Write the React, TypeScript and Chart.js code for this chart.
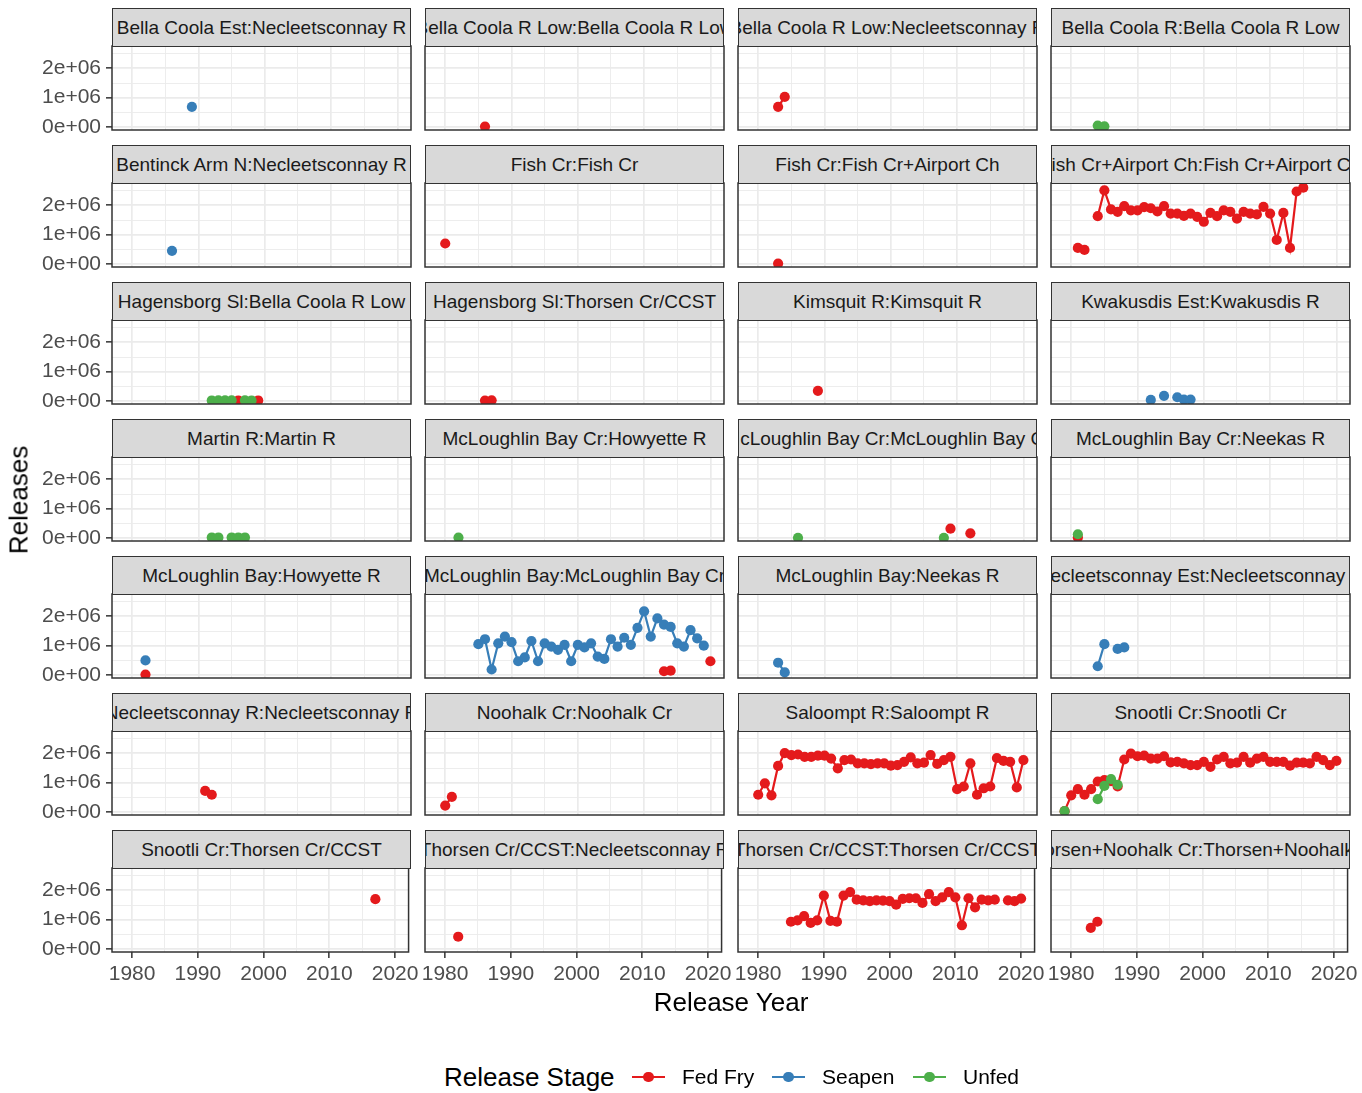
import React, { useEffect, useRef } from "react";
import { Chart, registerables } from "chart.js";

Chart.register(...registerables);

type Pt = [number, number];

// ---------- categories ----------
const STAGES = ["Fed Fry", "Seapen", "Unfed"];
const STAGE_COLORS = ["#E41A1C", "#377EB8", "#4DAF4A"];

const PANEL_TITLES = [
  "Bella Coola Est:Necleetsconnay R",
  "Bella Coola R Low:Bella Coola R Low",
  "Bella Coola R Low:Necleetsconnay R",
  "Bella Coola R:Bella Coola R Low",
  "Bentinck Arm N:Necleetsconnay R",
  "Fish Cr:Fish Cr",
  "Fish Cr:Fish Cr+Airport Ch",
  "Fish Cr+Airport Ch:Fish Cr+Airport Ch",
  "Hagensborg Sl:Bella Coola R Low",
  "Hagensborg Sl:Thorsen Cr/CCST",
  "Kimsquit R:Kimsquit R",
  "Kwakusdis Est:Kwakusdis R",
  "Martin R:Martin R",
  "McLoughlin Bay Cr:Howyette R",
  "McLoughlin Bay Cr:McLoughlin Bay Cr",
  "McLoughlin Bay Cr:Neekas R",
  "McLoughlin Bay:Howyette R",
  "McLoughlin Bay:McLoughlin Bay Cr",
  "McLoughlin Bay:Neekas R",
  "Necleetsconnay Est:Necleetsconnay R",
  "Necleetsconnay R:Necleetsconnay R",
  "Noohalk Cr:Noohalk Cr",
  "Saloompt R:Saloompt R",
  "Snootli Cr:Snootli Cr",
  "Snootli Cr:Thorsen Cr/CCST",
  "Thorsen Cr/CCST:Necleetsconnay R",
  "Thorsen Cr/CCST:Thorsen Cr/CCST",
  "Thorsen+Noohalk Cr:Thorsen+Noohalk Cr",
];

// ---------- tick labels ----------
const X_TICKS = [1980, 1985, 1990, 1995, 2000, 2005, 2010, 2015, 2020];
const Y_TICKS = [0, 500000, 1000000, 1500000, 2000000, 2500000];
const Y_TICK_LABELS: Record<number, string> = { 0: "0e+00", 1000000: "1e+06", 2000000: "2e+06" };

// ---------- series values: [release year, releases] ----------
const bcEstNecSeapen: Pt[] = [[1989, 690000]];
const bcLowBcLowFed: Pt[] = [[1986, 15000]];
const bcLowNecFed: Pt[] = [[1983, 690000], [1984, 1030000]];
const bcRBcLowUnfed: Pt[] = [[1984, 50000], [1985, 25000]];
const bentinckNecSeapen: Pt[] = [[1986, 450000]];
const fishFishFed: Pt[] = [[1980, 700000]];
const fishFishAirportFed: Pt[] = [[1983, 15000]];
const fishAirportFed: Pt[] = [
  [1981, 550000], [1982, 480000], [1984, 1630000], [1985, 2510000], [1986, 1860000],
  [1987, 1780000], [1988, 1970000], [1989, 1830000], [1990, 1830000], [1991, 1940000],
  [1992, 1900000], [1993, 1790000], [1994, 1970000], [1995, 1720000], [1996, 1720000],
  [1997, 1640000], [1998, 1720000], [1999, 1610000], [2000, 1440000], [2001, 1740000],
  [2002, 1630000], [2003, 1830000], [2004, 1780000], [2005, 1550000], [2006, 1780000],
  [2007, 1720000], [2008, 1690000], [2009, 1950000], [2010, 1720000], [2011, 820000],
  [2012, 1740000], [2013, 550000], [2014, 2470000], [2015, 2600000],
];
const hagBcLowFed: Pt[] = [[1996, 20000], [1999, 20000]];
const hagBcLowUnfed: Pt[] = [[1992, 20000], [1993, 25000], [1994, 25000], [1995, 25000], [1997, 25000], [1998, 20000]];
const hagThorsenFed: Pt[] = [[1986, 15000], [1987, 25000]];
const kimsquitFed: Pt[] = [[1989, 350000]];
const kwakusdisSeapen: Pt[] = [[1992, 40000], [1994, 180000], [1996, 130000], [1997, 50000], [1998, 50000]];
const martinUnfed: Pt[] = [[1992, 20000], [1993, 20000], [1995, 20000], [1996, 20000], [1997, 20000]];
const mcbCrHowyetteUnfed: Pt[] = [[1982, 15000]];
const mcbCrMcbCrFed: Pt[] = [[2009, 320000], [2012, 160000]];
const mcbCrMcbCrUnfed: Pt[] = [[1986, 10000], [2008, 10000]];
const mcbCrNeekasFed: Pt[] = [[1981, 20000]];
const mcbCrNeekasUnfed: Pt[] = [[1981, 130000]];
const mcbHowyetteFed: Pt[] = [[1982, 15000]];
const mcbHowyetteSeapen: Pt[] = [[1982, 500000]];
const mcbMcbCrFed: Pt[] = [[2013, 130000], [2014, 150000], [2020, 470000]];
const mcbMcbCrSeapen: Pt[] = [
  [1985, 1050000], [1986, 1220000], [1987, 190000], [1988, 1080000], [1989, 1310000],
  [1990, 1120000], [1991, 470000], [1992, 600000], [1993, 1160000], [1994, 470000],
  [1995, 1080000], [1996, 970000], [1997, 860000], [1998, 1030000], [1999, 470000],
  [2000, 1030000], [2001, 940000], [2002, 1080000], [2003, 630000], [2004, 550000],
  [2005, 1220000], [2006, 970000], [2007, 1270000], [2008, 1030000], [2009, 1610000],
  [2010, 2170000], [2011, 1310000], [2012, 1930000], [2013, 1720000], [2014, 1640000],
  [2015, 1080000], [2016, 970000], [2017, 1530000], [2018, 1250000], [2019, 1000000],
];
const mcbNeekasSeapen: Pt[] = [[1983, 420000], [1984, 90000]];
const necEstNecSeapen: Pt[] = [[1984, 300000], [1985, 1050000], [1987, 890000], [1988, 940000]];
const necRNecRFed: Pt[] = [[1991, 720000], [1992, 590000]];
const noohalkFed: Pt[] = [[1980, 220000], [1981, 520000]];
const saloomptFed: Pt[] = [
  [1980, 590000], [1981, 980000], [1982, 570000], [1983, 1570000], [1984, 2010000],
  [1985, 1940000], [1986, 1960000], [1987, 1880000], [1988, 1880000], [1989, 1920000],
  [1990, 1920000], [1991, 1820000], [1992, 1490000], [1993, 1770000], [1994, 1790000],
  [1995, 1660000], [1996, 1660000], [1997, 1630000], [1998, 1660000], [1999, 1660000],
  [2000, 1580000], [2001, 1600000], [2002, 1710000], [2003, 1860000], [2004, 1660000],
  [2005, 1680000], [2006, 1940000], [2007, 1640000], [2008, 1770000], [2009, 1880000],
  [2010, 780000], [2011, 870000], [2012, 1660000], [2013, 590000], [2014, 810000],
  [2015, 870000], [2016, 1840000], [2017, 1740000], [2018, 1710000], [2019, 840000],
  [2020, 1770000],
];
const snootliFed: Pt[] = [
  [1979, 30000], [1980, 570000], [1981, 780000], [1982, 590000], [1983, 780000],
  [1984, 1040000], [1985, 1090000], [1986, 1050000], [1987, 870000], [1988, 1790000],
  [1989, 1990000], [1990, 1900000], [1991, 1920000], [1992, 1820000], [1993, 1820000],
  [1994, 1900000], [1995, 1690000], [1996, 1710000], [1997, 1660000], [1998, 1600000],
  [1999, 1600000], [2000, 1710000], [2001, 1540000], [2002, 1790000], [2003, 1880000],
  [2004, 1660000], [2005, 1680000], [2006, 1880000], [2007, 1680000], [2008, 1820000],
  [2009, 1880000], [2010, 1710000], [2011, 1710000], [2012, 1710000], [2013, 1580000],
  [2014, 1680000], [2015, 1680000], [2016, 1660000], [2017, 1880000], [2018, 1770000],
  [2019, 1600000], [2020, 1740000],
];
const snootliUnfed: Pt[] = [[1979, 30000], [1984, 440000], [1985, 890000], [1986, 1120000], [1987, 930000]];
const snootliThorsenFed: Pt[] = [[2017, 1700000]];
const thorsenNecFed: Pt[] = [[1982, 420000]];
const thorsenThorsenFed: Pt[] = [
  [1985, 930000], [1986, 980000], [1987, 1120000], [1988, 890000], [1989, 980000],
  [1990, 1820000], [1991, 960000], [1992, 930000], [1993, 1820000], [1994, 1940000],
  [1995, 1680000], [1996, 1660000], [1997, 1630000], [1998, 1660000], [1999, 1650000],
  [2000, 1630000], [2001, 1510000], [2002, 1710000], [2003, 1730000], [2004, 1730000],
  [2005, 1570000], [2006, 1870000], [2007, 1630000], [2008, 1760000], [2009, 1940000],
  [2010, 1760000], [2011, 810000], [2012, 1730000], [2013, 1420000], [2014, 1680000],
  [2015, 1660000], [2016, 1680000], [2018, 1660000], [2019, 1630000], [2020, 1720000],
];
const thorsenNoohalkFed: Pt[] = [[1983, 720000], [1984, 930000]];

// per panel: [Fed Fry, Seapen, Unfed]
const PANEL_SERIES: (Pt[] | null)[][] = [
  [null, bcEstNecSeapen, null],
  [bcLowBcLowFed, null, null],
  [bcLowNecFed, null, null],
  [null, null, bcRBcLowUnfed],
  [null, bentinckNecSeapen, null],
  [fishFishFed, null, null],
  [fishFishAirportFed, null, null],
  [fishAirportFed, null, null],
  [hagBcLowFed, null, hagBcLowUnfed],
  [hagThorsenFed, null, null],
  [kimsquitFed, null, null],
  [null, kwakusdisSeapen, null],
  [null, null, martinUnfed],
  [null, null, mcbCrHowyetteUnfed],
  [mcbCrMcbCrFed, null, mcbCrMcbCrUnfed],
  [mcbCrNeekasFed, null, mcbCrNeekasUnfed],
  [mcbHowyetteFed, mcbHowyetteSeapen, null],
  [mcbMcbCrFed, mcbMcbCrSeapen, null],
  [null, mcbNeekasSeapen, null],
  [null, necEstNecSeapen, null],
  [necRNecRFed, null, null],
  [noohalkFed, null, null],
  [saloomptFed, null, null],
  [snootliFed, null, snootliUnfed],
  [snootliThorsenFed, null, null],
  [thorsenNecFed, null, null],
  [thorsenThorsenFed, null, null],
  [thorsenNoohalkFed, null, null],
];

// ---------- layout / style ----------
const FONT = '"Liberation Sans", Arial, Helvetica, sans-serif';
const YEAR_MIN = 1976.95;
const YEAR_MAX = 2022.05;
const Y_MIN = -100000;
const Y_MAX = 2760000;
const COL_LEFT = [112, 425, 738, 1051];
const PANEL_W = 299;
const PANEL_H = 84;
const ROW_STEP = 137;
const FIRST_PLOT_TOP = 46;
const STRIP_H = 38;
const GRID = "#EBEBEB";
const DARK = "#333333";
const TICK_FONT = 21;
const TITLE_FONT = 26;
const POINT_R = 5.1;

Chart.defaults.font.family = FONT;

const panelBorder = {
  id: "panelBorder",
  afterDraw(chart: any) {
    const { ctx, chartArea: a } = chart;
    ctx.save();
    ctx.strokeStyle = DARK;
    ctx.lineWidth = 1.5;
    ctx.strokeRect(a.left, a.top, a.right - a.left, a.bottom - a.top);
    ctx.restore();
  },
};

function withGaps(pts: Pt[]) {
  const out: { x: number; y: number | null }[] = [];
  pts.forEach((p, i) => {
    if (i > 0 && p[0] - pts[i - 1][0] > 1) out.push({ x: (p[0] + pts[i - 1][0]) / 2, y: null });
    out.push({ x: p[0], y: p[1] });
  });
  return out;
}

function Panel({ idx }: { idx: number }) {
  const ref = useRef<HTMLCanvasElement>(null);
  const r = Math.floor(idx / 4);
  const c = idx % 4;
  const isLeft = c === 0;
  const isBottom = r === 6;
  const plotLeft = COL_LEFT[c];
  const plotTop = FIRST_PLOT_TOP + r * ROW_STEP;
  const padL = isLeft ? 0 : 14;
  const canvasLeft = isLeft ? 0 : plotLeft - padL;
  const yAxisW = isLeft ? plotLeft : 0;
  const padR = 12;
  const padT = 18;
  const padB = isBottom ? 0 : 18;
  const xAxisH = isBottom ? 42 : 0;
  const width = plotLeft + PANEL_W + padR - canvasLeft;
  const height = padT + PANEL_H + xAxisH + padB;

  useEffect(() => {
    const datasets: any[] = [];
    PANEL_SERIES[idx].forEach((pts, s) => {
      if (!pts) return;
      datasets.push({
        label: STAGES[s] + " line",
        data: withGaps(pts),
        borderColor: STAGE_COLORS[s],
        borderWidth: 2.2,
        pointRadius: 0,
        showLine: true,
        spanGaps: false,
        fill: false,
        clip: 0,
        order: 6 - s,
      });
      datasets.push({
        label: STAGES[s],
        data: pts.map((p) => ({ x: p[0], y: p[1] })),
        showLine: false,
        borderColor: STAGE_COLORS[s],
        pointBackgroundColor: STAGE_COLORS[s],
        pointBorderWidth: 0,
        pointRadius: POINT_R,
        clip: 0,
        order: 3 - s,
      });
    });
    const chart = new Chart(ref.current as HTMLCanvasElement, {
      type: "line",
      data: { datasets },
      options: {
        animation: false,
        responsive: false,
        maintainAspectRatio: false,
        events: [],
        layout: { padding: { left: padL, right: padR, top: padT, bottom: padB } },
        plugins: { legend: { display: false }, tooltip: { enabled: false }, title: { display: false } },
        scales: {
          x: {
            type: "linear",
            min: YEAR_MIN,
            max: YEAR_MAX,
            afterBuildTicks: (s: any) => {
              s.ticks = X_TICKS.map((v) => ({ value: v }));
            },
            afterFit: (s: any) => {
              s.height = xAxisH;
            },
            border: { display: false },
            grid: {
              color: GRID,
              lineWidth: (ctx: any) => (ctx.tick && ctx.tick.value % 10 === 0 ? 1.7 : 0.9),
              drawTicks: isBottom,
              tickLength: 6,
              tickWidth: 1.5,
              tickColor: (ctx: any) => (ctx.tick && ctx.tick.value % 10 === 0 ? DARK : "rgba(0,0,0,0)"),
            },
            ticks: {
              display: isBottom,
              autoSkip: false,
              maxRotation: 0,
              padding: 4,
              color: "#4D4D4D",
              font: { size: TICK_FONT, family: FONT },
              callback: (v: any) => (Number(v) % 10 === 0 ? String(v) : ""),
            },
          },
          y: {
            type: "linear",
            min: Y_MIN,
            max: Y_MAX,
            afterBuildTicks: (s: any) => {
              s.ticks = Y_TICKS.map((v) => ({ value: v }));
            },
            afterFit: (s: any) => {
              s.width = yAxisW;
            },
            border: { display: false },
            grid: {
              color: GRID,
              lineWidth: (ctx: any) => (ctx.tick && ctx.tick.value % 1000000 === 0 ? 1.7 : 0.9),
              drawTicks: isLeft,
              tickLength: 6,
              tickWidth: 1.5,
              tickColor: (ctx: any) => (ctx.tick && ctx.tick.value % 1000000 === 0 ? DARK : "rgba(0,0,0,0)"),
            },
            ticks: {
              display: isLeft,
              autoSkip: false,
              padding: 5,
              color: "#4D4D4D",
              font: { size: TICK_FONT, family: FONT },
              callback: (v: any) => Y_TICK_LABELS[Number(v)] ?? "",
            },
          },
        },
      } as any,
      plugins: [panelBorder],
    });
    return () => chart.destroy();
  }, [idx]);

  return (
    <>
      <canvas
        ref={ref}
        width={width}
        height={height}
        style={{ position: "absolute", left: canvasLeft, top: plotTop - padT, width, height }}
      />
      <div
        style={{
          position: "absolute",
          left: plotLeft,
          top: plotTop - STRIP_H,
          width: PANEL_W,
          height: STRIP_H + 1,
          boxSizing: "border-box",
          background: "#D9D9D9",
          border: `1.5px solid ${DARK}`,
          display: "flex",
          justifyContent: "center",
          alignItems: "center",
          overflow: "hidden",
          whiteSpace: "nowrap",
          font: `19px ${FONT}`,
          color: "#1A1A1A",
        }}
      >
        <span style={{ flexShrink: 0 }}>{PANEL_TITLES[idx]}</span>
      </div>
    </>
  );
}

function LegendKey({ x, color }: { x: number; color: string }) {
  return (
    <>
      <div style={{ position: "absolute", left: x, top: 1076, width: 33, height: 2.2, background: color }} />
      <div
        style={{
          position: "absolute",
          left: x + 16.5 - POINT_R,
          top: 1077 - POINT_R,
          width: POINT_R * 2,
          height: POINT_R * 2,
          borderRadius: "50%",
          background: color,
        }}
      />
    </>
  );
}

export default function App() {
  const legendItems = [
    { key: 632, text: 682 },
    { key: 772, text: 822 },
    { key: 913, text: 963 },
  ];
  return (
    <div
      style={{
        position: "absolute",
        left: 0,
        top: 0,
        width: 1362,
        height: 1093,
        background: "#FFFFFF",
        fontFamily: FONT,
        overflow: "hidden",
      }}
    >
      {PANEL_TITLES.map((_, i) => (
        <Panel key={i} idx={i} />
      ))}
      <div
        style={{
          position: "absolute",
          left: 19,
          top: 500,
          transform: "translate(-50%, -50%) rotate(-90deg)",
          whiteSpace: "nowrap",
          fontSize: TITLE_FONT,
          color: "#000",
        }}
      >
        Releases
      </div>
      <div
        style={{
          position: "absolute",
          left: 731,
          top: 1002,
          transform: "translate(-50%, -50%)",
          whiteSpace: "nowrap",
          fontSize: TITLE_FONT,
          color: "#000",
        }}
      >
        Release Year
      </div>
      <div
        style={{
          position: "absolute",
          left: 444,
          top: 1077,
          transform: "translateY(-50%)",
          whiteSpace: "nowrap",
          fontSize: TITLE_FONT,
          color: "#000",
        }}
      >
        Release Stage
      </div>
      {legendItems.map((it, s) => (
        <React.Fragment key={s}>
          <LegendKey x={it.key} color={STAGE_COLORS[s]} />
          <div
            style={{
              position: "absolute",
              left: it.text,
              top: 1077,
              transform: "translateY(-50%)",
              whiteSpace: "nowrap",
              fontSize: TICK_FONT,
              color: "#000",
            }}
          >
            {STAGES[s]}
          </div>
        </React.Fragment>
      ))}
    </div>
  );
}
